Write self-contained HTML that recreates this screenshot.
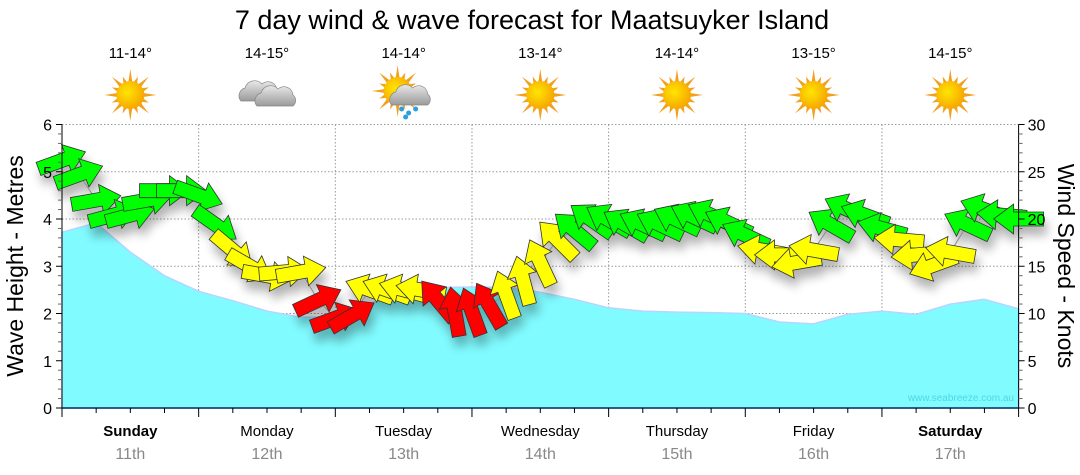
<!DOCTYPE html>
<html><head><meta charset="utf-8"><style>
body{margin:0;background:#fff;width:1080px;height:475px;overflow:hidden;font-family:"Liberation Sans",sans-serif}
svg{display:block}
</style></head><body>
<svg id="chart" width="1080" height="475" xmlns="http://www.w3.org/2000/svg">
<defs>
<filter id="sh" x="-30%" y="-30%" width="160%" height="160%"><feGaussianBlur in="SourceAlpha" stdDeviation="5"/><feOffset dx="3" dy="9"/><feComponentTransfer><feFuncA type="linear" slope="0.3"/></feComponentTransfer><feMerge><feMergeNode/><feMergeNode in="SourceGraphic"/></feMerge></filter>
<radialGradient id="sung" cx="0.4" cy="0.4" r="0.6"><stop offset="0" stop-color="#ffe600"/><stop offset="1" stop-color="#f7a800"/></radialGradient>
<linearGradient id="cldg" x1="0" y1="0" x2="0" y2="1"><stop offset="0" stop-color="#e8e8e8"/><stop offset="1" stop-color="#9a9a9a"/></linearGradient>
</defs>
<text x="532" y="29" font-size="27" text-anchor="middle" fill="#000">7 day wind &amp; wave forecast for Maatsuyker Island</text>
<g id="grid"></g>
<g id="wave"></g>
<g id="wind" filter="url(#sh)"></g>
<g id="axes"></g>
<g id="icons"></g>
<text transform="translate(23,266) rotate(-90)" font-size="23" text-anchor="middle">Wave Height - Metres</text>
<text transform="translate(1058,266) rotate(90)" font-size="23" text-anchor="middle">Wind Speed - Knots</text>
<text x="1014" y="401" font-size="10" text-anchor="end" fill="#3cc8d8" opacity="0.7">www.seabreeze.com.au</text>
</svg>
<script>
const dayNames=["Sunday","Monday","Tuesday","Wednesday","Thursday","Friday","Saturday"];
const dayDates=["11th","12th","13th","14th","15th","16th","17th"];
const temps=["11-14°","14-15°","14-14°","13-14°","14-14°","13-15°","14-15°"];
const icons=["sun","cloud","rain","sun","sun","sun","sun"];
const waveHeights=[3.72,3.92,3.3,2.8,2.47,2.27,2.05,1.92,1.93,2.2,2.5,2.55,2.56,2.55,2.45,2.3,2.12,2.05,2.03,2.02,2.0,1.82,1.78,1.98,2.05,1.98,2.2,2.3,2.1];
const windSpeeds=[26.2,24.7,22,20.4,20.4,22,23,23,22.5,19.4,16.7,15,14,14.4,14.4,11.4,9.5,9.8,12.5,12.5,12.5,12.5,11.4,10.2,10.2,10.9,12,13.5,15.4,17.8,18.8,19.9,19.9,19.4,19.4,19.4,19.9,20.2,20.4,19.6,18.3,16.7,16.2,15.4,16.7,19.4,21,20.4,19,17.8,16.2,15.1,16.5,19.4,21,20.4,20];
const windDirs=[250,250,260,255,255,260,270,270,290,305,310,300,280,265,260,245,250,240,110,110,105,100,140,170,160,150,160,165,155,135,130,125,120,120,115,115,115,115,115,115,115,100,90,80,100,120,115,110,105,95,85,70,100,115,110,95,90];
const leftTicks=[0,1,2,3,4,5,6];
const rightTicks=[0,5,10,15,20,25,30];

const NS="http://www.w3.org/2000/svg";
const X0=62,X1=1018.6,Y0=408,Y6=124.5;
const xDays=d=>X0+(X1-X0)*d/7;
const yM=m=>Y0-(Y0-Y6)*m/6;
const yK=k=>Y0-(Y0-Y6)*k/30;
function mk(tag,attrs,parent){const e=document.createElementNS(NS,tag);for(const k in attrs)e.setAttribute(k,attrs[k]);parent.appendChild(e);return e;}
const grid=document.getElementById('grid'),axes=document.getElementById('axes');
leftTicks.forEach(v=>{if(v>0){const l=mk('line',{x1:X0,x2:X1,y1:yM(v),y2:yM(v),stroke:'#999','stroke-dasharray':'1.5,2','stroke-width':1},grid);

}});
for(let d=1;d<7;d++){const l=mk('line',{x1:xDays(d),x2:xDays(d),y1:Y6,y2:Y0,stroke:'#999','stroke-dasharray':'1.5,2'},grid);

}
// wave
const wave=document.getElementById('wave');
let p='M'+X0+','+Y0;
waveHeights.forEach((h,i)=>{p+=' L'+xDays(i/4).toFixed(1)+','+yM(h).toFixed(1);});
p+=' L'+X1+','+Y0+' Z';
const wp=mk('path',{d:p,fill:'#80fbff',stroke:'#b8d4ff','stroke-width':1.5,'stroke-linejoin':'round'},wave);


// wind arrows
const wind=document.getElementById('wind');
let lp='';windSpeeds.forEach((s,i)=>{lp+=(i?'L':'M')+xDays(i/8).toFixed(1)+','+yK(s).toFixed(1);});
const wl=mk('path',{d:lp,fill:'none',stroke:'#888','stroke-width':1},wind);


const arrowD='M-25,-7 L5,-7 L5,-15 L25,0 L5,15 L5,7 L-25,7 Z';
windSpeeds.forEach((s,i)=>{
  const col=s<11.5?'#ff0000':(s<18?'#ffff00':'#00ff00');
  const ang=windDirs[i]+90;
  const a=mk('path',{d:arrowD,fill:col,stroke:'#333','stroke-width':0.8,'stroke-linejoin':'miter',transform:'translate('+xDays(i/8).toFixed(1)+','+yK(s).toFixed(1)+') rotate('+ang+')'},wind);
  
  
});
// axes
mk('line',{x1:X0,x2:X0,y1:Y6,y2:Y0,stroke:'#000'},axes);
mk('line',{x1:X1,x2:X1,y1:Y6,y2:Y0,stroke:'#000'},axes);
mk('line',{x1:X0,x2:X1,y1:Y0,y2:Y0,stroke:'#003060','stroke-width':1.5},axes);
leftTicks.forEach(v=>{mk('line',{x1:X0-6,x2:X0,y1:yM(v),y2:yM(v),stroke:'#000'},axes);
 const t=mk('text',{x:X0-10,y:yM(v)+6,'font-size':16,'text-anchor':'end'},axes);t.textContent=v;
 
 
 if(v<6)for(let k=1;k<5;k++)mk('line',{x1:X0-4,x2:X0,y1:yM(v+k/5),y2:yM(v+k/5),stroke:'#666'},axes);});
rightTicks.forEach(v=>{mk('line',{x1:X1,x2:X1+6,y1:yK(v),y2:yK(v),stroke:'#000'},axes);
 const t=mk('text',{x:X1+9,y:yK(v)+6,'font-size':16},axes);t.textContent=v;
 
 
 if(v<30)for(let k=1;k<5;k++)mk('line',{x1:X1,x2:X1+4,y1:yK(v+k),y2:yK(v+k),stroke:'#666'},axes);});
for(let q=0;q<=28;q++){mk('line',{x1:xDays(q/4),x2:xDays(q/4),y1:Y0,y2:Y0+(q%4?5:9),stroke:'#000'},axes);}
dayNames.forEach((n,d)=>{const cx=xDays(d+0.5);const bold=(d==0||d==6);
 const t=mk('text',{x:cx,y:436,'font-size':15,'text-anchor':'middle','font-weight':bold?'bold':'normal'},axes);t.textContent=n;
 
 
 const t2=mk('text',{x:cx,y:459,'font-size':16,'text-anchor':'middle',fill:'#888'},axes);t2.textContent=dayDates[d];
 
 
 const t3=mk('text',{x:cx,y:58,'font-size':15,'text-anchor':'middle'},axes);t3.textContent=temps[d];
 
 
});
// icons
const ig=document.getElementById('icons');
function sun(g,cx,cy){for(let k=0;k<16;k++){const a=k*Math.PI/8,l=k%2?20:26;
 mk('polygon',{points:[cx+Math.cos(a)*l,cy+Math.sin(a)*l,cx+Math.cos(a+0.15)*13,cy+Math.sin(a+0.15)*13,cx+Math.cos(a-0.15)*13,cy+Math.sin(a-0.15)*13].join(','),fill:'#f2a020'},g);}
 mk('circle',{cx:cx,cy:cy,r:14,fill:'url(#sung)'},g);}
function cloud(g,cx,cy,s){mk('path',{d:`M${cx-18*s},${cy+8*s} a8,8 0 0 1 4,-13 a10,10 0 0 1 17,-4 a9,9 0 0 1 15,6 a7,7 0 0 1 0,11 Z`,fill:'url(#cldg)',stroke:'#888','stroke-width':0.7},g);}
icons.forEach((ic,d)=>{const cx=xDays(d+0.5),cy=95;const g=mk('g',{},ig);
 
 
 if(ic=='sun')sun(g,cx,cy);
 else if(ic=='cloud'){cloud(g,cx-8,cy-2,1);cloud(g,cx+8,cy+3,1);}
 else{sun(g,cx-6,cy-4);cloud(g,cx+6,cy+2,1);[[-2,14],[5,18],[12,14],[2,22]].forEach(o=>mk('circle',{cx:cx+o[0],cy:cy+o[1],r:2.5,fill:'#2aa0e0'},g));}
});
</script>
</body></html>
